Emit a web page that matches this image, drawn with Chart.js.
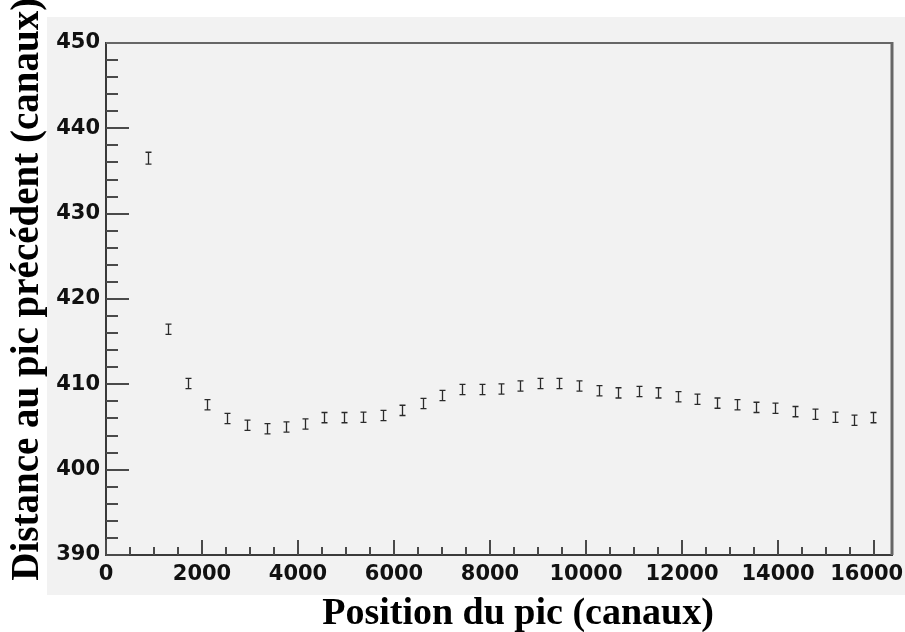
<!DOCTYPE html>
<html>
<head>
<meta charset="utf-8">
<script src="https://cdn.jsdelivr.net/npm/chart.js@4/dist/chart.umd.min.js"></script>
<style>
html,body{margin:0;padding:0;background:#ffffff;}
#wrap{width:905px;height:632px;position:relative;}
</style>
</head>
<body>
<div id="wrap"><canvas id="c" width="905" height="632"></canvas></div>
<script>
// Peak positions (channels)
const positions = [881, 1298, 1715, 2110, 2521, 2938, 3348, 3750, 4152, 4548,
  4965, 5360, 5777, 6173, 6598, 7006, 7410, 7827, 8223, 8625,
  9042, 9444, 9860, 10265, 10677, 11104, 11506, 11923, 12319, 12723,
  13140, 13542, 13944, 14354, 14771, 15188, 15583, 15985];
// Distance to previous peak (channels)
const distances = [436.5, 416.45, 410.1, 407.6, 406.0, 405.2, 404.8, 405.0, 405.35, 406.1,
  406.1, 406.15, 406.35, 406.95, 407.75, 408.7, 409.4, 409.4, 409.45, 409.8,
  410.1, 410.1, 409.8, 409.25, 409.0, 409.15, 409.0, 408.55, 408.25, 407.8,
  407.6, 407.3, 407.2, 406.8, 406.5, 406.15, 405.8, 406.1];
// Error on each distance
const errors = [0.7, 0.6, 0.6, 0.6, 0.6, 0.6, 0.6, 0.6, 0.6, 0.6,
  0.6, 0.6, 0.6, 0.6, 0.6, 0.6, 0.6, 0.6, 0.6, 0.6,
  0.6, 0.6, 0.6, 0.6, 0.6, 0.6, 0.6, 0.6, 0.6, 0.6,
  0.6, 0.6, 0.6, 0.6, 0.6, 0.6, 0.6, 0.6];
const xTicks = [0, 2000, 4000, 6000, 8000, 10000, 12000, 14000, 16000];
const yTicks = [390, 400, 410, 420, 430, 440, 450];
const xMinorStep = 500;
const yMinorStep = 2;
const xTitle = "Position du pic (canaux)";
const yTitle = "Distance au pic précédent (canaux)";

const points = positions.map((p, i) => ({x: p, y: distances[i]}));

const backgroundPlugin = {
  id: 'bgPanel',
  beforeDraw(chart) {
    const ctx = chart.ctx;
    ctx.save();
    ctx.fillStyle = '#f2f2f2';
    ctx.fillRect(47, 17, 858, 578);
    ctx.restore();
  }
};

const framePlugin = {
  id: 'frameTicks',
  afterDatasetsDraw(chart) {
    const ctx = chart.ctx;
    const area = chart.chartArea;
    const xs = chart.scales.x, ys = chart.scales.y;
    ctx.save();
    // error bars
    ctx.strokeStyle = '#2a2a2a';
    ctx.lineWidth = 1.3;
    points.forEach((pt, i) => {
      const px = Math.round(xs.getPixelForValue(pt.x)) + 0.5;
      const yl = ys.getPixelForValue(pt.y - errors[i]);
      const yh = ys.getPixelForValue(pt.y + errors[i]);
      ctx.beginPath();
      ctx.moveTo(px, yl); ctx.lineTo(px, yh);
      ctx.moveTo(px - 3, yl); ctx.lineTo(px + 3, yl);
      ctx.moveTo(px - 3, yh); ctx.lineTo(px + 3, yh);
      ctx.stroke();
    });
    // ticks inside
    ctx.strokeStyle = '#4a4a4a';
    ctx.lineWidth = 2;
    ctx.beginPath();
    for (let v = ys.min; v <= ys.max + 1e-9; v += yMinorStep) {
      const py = Math.round(ys.getPixelForValue(v));
      const major = yTicks.includes(Math.round(v));
      ctx.moveTo(area.left, py);
      ctx.lineTo(area.left + (major ? 23 : 12), py);
    }
    for (let v = 0; v <= xs.max + 1e-9; v += xMinorStep) {
      const px = Math.round(xs.getPixelForValue(v));
      const major = xTicks.includes(v);
      ctx.moveTo(px, area.bottom);
      ctx.lineTo(px, area.bottom - (major ? 15 : 8));
    }
    ctx.stroke();
    // top and right frame
    ctx.strokeStyle = '#666666';
    ctx.lineWidth = 2;
    ctx.beginPath();
    ctx.moveTo(area.left, area.top);
    ctx.lineTo(area.right, area.top);
    ctx.stroke();
    ctx.lineWidth = 3;
    ctx.beginPath();
    ctx.moveTo(area.right, area.top - 1);
    ctx.lineTo(area.right, area.bottom);
    ctx.stroke();
    ctx.restore();
  }
};

const lastX = xTicks[xTicks.length - 1];

new Chart(document.getElementById('c'), {
  type: 'scatter',
  data: {
    datasets: [{
      data: points,
      pointRadius: 0,
      pointHoverRadius: 0,
      showLine: false,
      borderColor: '#222',
      backgroundColor: '#222'
    }]
  },
  options: {
    responsive: false,
    animation: false,
    events: [],
    layout: {padding: {top: 43, right: 13, left: 0, bottom: 0}},
    plugins: {legend: {display: false}, tooltip: {enabled: false}},
    scales: {
      x: {
        type: 'linear',
        min: 0,
        max: 16375,
        afterBuildTicks: s => { s.ticks = xTicks.map(v => ({value: v})); },
        afterFit: s => { s.height = 77; s.paddingLeft = 0; s.paddingRight = 0; },
        grid: {display: false, drawTicks: false},
        border: {display: true, color: '#3a3a3a', width: 2},
        ticks: {
          padding: 7,
          maxRotation: 0,
          autoSkip: false,
          color: '#111',
          font: {family: 'DejaVu Sans', weight: 'bold', size: 21},
          callback: v => (v === lastX ? String(v) + '  ' : String(v))
        },
        title: {
          display: true,
          text: '    ' + xTitle,
          color: '#000',
          padding: {top: 0, bottom: -5},
          font: {family: 'Liberation Serif', weight: 'bold', size: 38}
        }
      },
      y: {
        type: 'linear',
        min: 390,
        max: 450,
        afterBuildTicks: s => { s.ticks = yTicks.map(v => ({value: v})); },
        afterFit: s => { s.width = 106; s.paddingTop = 0; s.paddingBottom = 0; },
        grid: {display: false, drawTicks: false},
        border: {display: true, color: '#3a3a3a', width: 2},
        ticks: {
          padding: 6,
          autoSkip: false,
          color: '#111',
          font: {family: 'DejaVu Sans', weight: 'bold', size: 21},
          callback: v => String(v)
        },
        title: {
          display: true,
          text: '  ' + yTitle,
          color: '#000',
          padding: {top: 5, bottom: 0},
          font: {family: 'Liberation Serif', weight: 'bold', size: 39}
        }
      }
    }
  },
  plugins: [backgroundPlugin, framePlugin]
});
</script>
</body>
</html>
